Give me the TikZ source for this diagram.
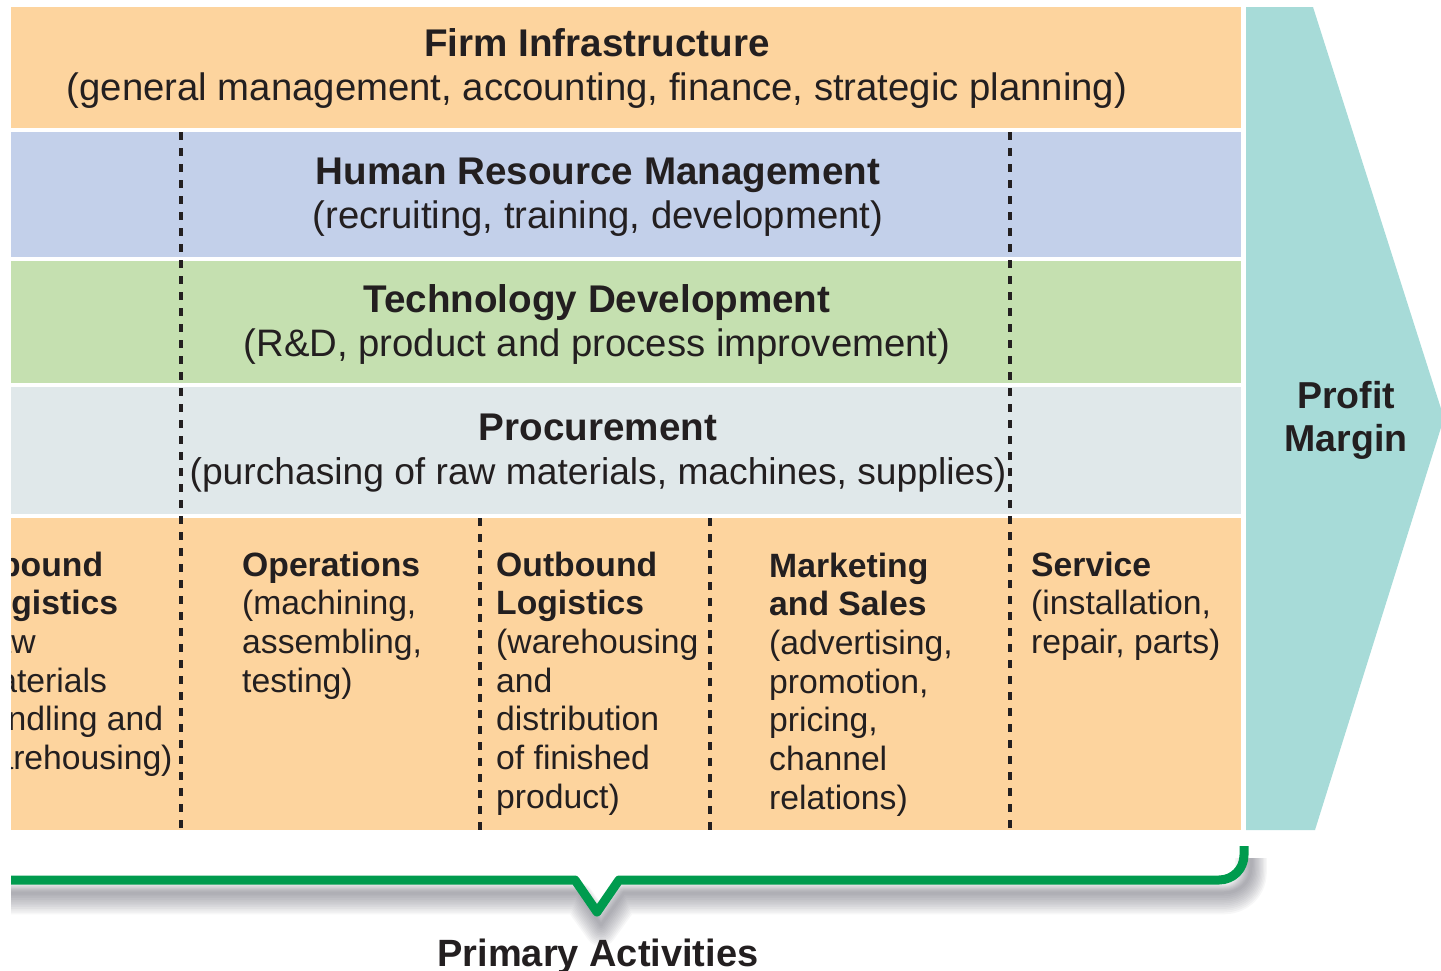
\documentclass[tikz,border=0pt]{standalone}
\usepackage{fontspec}
\setmainfont{Liberation Sans}
\definecolor{peach}{RGB}{253,212,158}
\definecolor{hrblue}{RGB}{195,208,234}
\definecolor{techgreen}{RGB}{197,224,176}
\definecolor{procgrey}{RGB}{224,232,234}
\definecolor{marginteal}{RGB}{167,219,216}
\definecolor{bracegreen}{RGB}{0,155,78}
\definecolor{ink}{RGB}{35,31,32}
\definecolor{shadowgrey}{RGB}{60,60,75}
\newcommand\linesL[1]{\begin{tabular}[t]{@{}l@{}}#1\end{tabular}}
\newcommand\linesC[1]{\begin{tabular}[t]{@{}c@{}}#1\end{tabular}}
\newcommand\ttl{\fontsize{38.6}{44}\selectfont\bfseries}
\newcommand\ptl{\bfseries}
\begin{document}
\begin{tikzpicture}[x=1pt,y=-1pt,
  divider/.style={ink, line width=3.2pt, dash pattern=on 8pt off 8pt},
  suptext/.style={anchor=base, inner sep=0pt, text=ink, font={\fontsize{38.3}{44}\selectfont}},
  primtext/.style={anchor=base west, inner sep=0pt, text=ink, font={\fontsize{33.7}{38.7}\selectfont}},
  bigbold/.style={inner sep=0pt, text=ink, font={\fontsize{37.5}{43}\selectfont\bfseries}}
]
\useasboundingbox (0,0) rectangle (1441,970);
\clip (0,0) rectangle (1441,970);

% support activity bands
\fill[peach]      (11,7)   rectangle (1241,128);
\fill[hrblue]     (11,132) rectangle (1241,257);
\fill[techgreen]  (11,261) rectangle (1241,383);
\fill[procgrey]   (11,387) rectangle (1241,514);
\fill[peach]      (11,518) rectangle (1241,830);

% profit margin arrow
\fill[marginteal] (1246,7) -- (1313,7) -- (1444,418) -- (1315,830) -- (1246,830) -- cycle;
\node[bigbold, anchor=base, align=center] (margin) at (1346,408) {\linesC{Profit\\Margin}};

% dividers
\coordinate (d1t) at (181,132);  \coordinate (d1b) at (181,830);
\coordinate (d2t) at (1010,132); \coordinate (d2b) at (1010,830);
\coordinate (d3t) at (480,518);  \coordinate (d3b) at (480,830);
\coordinate (d4t) at (710,518);  \coordinate (d4b) at (710,830);
\draw[divider] (d1t) -- (d1b);
\draw[divider] (d2t) -- (d2b);
\draw[divider] (d3t) -- (d3b);
\draw[divider] (d4t) -- (d4b);

% support texts
\node[suptext] (firm) at (597,56) {\linesC{{\ttl Firm Infrastructure}\\(general management, accounting, finance, strategic planning)}};
\node[suptext] (hrm) at (598,184) {\linesC{{\ttl Human Resource Management}\\(recruiting, training, development)}};
\node[suptext] (tech) at (597,312) {\linesC{{\ttl Technology Development}\\(R\&D, product and process improvement)}};
\node[suptext, font={\fontsize{37.2}{44}\selectfont}] (proc) at (598,440) {\linesC{{\ttl Procurement}\\(purchasing of raw materials, machines, supplies)}};

% primary texts
\begin{scope}
\clip (11,518) rectangle (181,830);
\node[primtext] (inbound) at (-30,576) {\linesL{{\ptl Inbound}\\{\ptl Logistics}\\(raw\\materials\\handling and\\warehousing)}};
\end{scope}
\node[primtext] (ops) at (242,576) {\linesL{{\ptl Operations}\\(machining,\\assembling,\\testing)}};
\node[primtext] (outb) at (496,576) {\linesL{{\ptl Outbound}\\{\ptl Logistics}\\(warehousing\\and\\distribution\\of finished\\product)}};
\node[primtext] (mkt) at (769,577) {\linesL{{\ptl Marketing}\\{\ptl and Sales}\\(advertising,\\promotion,\\pricing,\\channel\\relations)}};
\node[primtext] (serv) at (1031,576) {\linesL{{\ptl Service}\\(installation,\\repair, parts)}};

% bracket shadow
\begin{scope}
\clip (11,836) rectangle (1441,970);
\foreach \i in {0,...,11} {
  \pgfmathsetmacro{\lw}{3+2.6*\i}
  \pgfmathsetmacro{\dy}{0.5*\i}
  \draw[shadowgrey, opacity=0.045, line width=\lw pt, line join=round]
    (11,893+\dy) -- (578,893+\dy) -- (601,925+\dy) -- (624,893+\dy)
    -- (1224,893+\dy) .. controls (1239,893+\dy) and (1251,882+\dy) .. (1251,867+\dy) -- (1251,858);
}
\end{scope}

% bracket
\coordinate (bA) at (11,880);
\coordinate (bB) at (575,880);
\coordinate (bV) at (597,912);
\coordinate (bC) at (619,880);
\coordinate (bD) at (1219,880);
\coordinate (bE) at (1244,855);
\coordinate (bF) at (1244,846);
\draw[bracegreen, line width=9pt, line join=round]
  (bA) -- (bB) -- (bV) -- (bC) -- (bD) .. controls (1233,880) and (1244,869) .. (bE) -- (bF);

\node[bigbold, anchor=base, font={\fontsize{38}{44}\selectfont\bfseries}] (primary) at (598,966) {Primary Activities};
\end{tikzpicture}
\end{document}
